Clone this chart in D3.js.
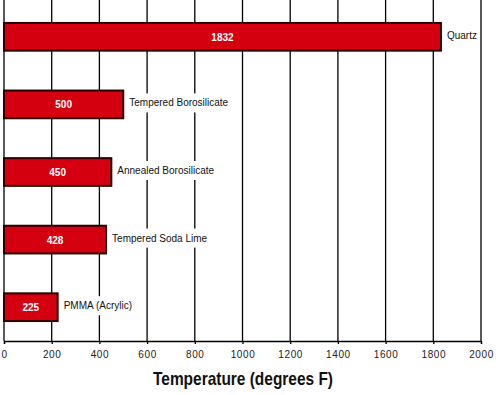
<!DOCTYPE html>
<html>
<head>
<meta charset="utf-8">
<script src="https://cdn.jsdelivr.net/npm/d3@7"></script>
<style>
  body { margin: 0; background: #fff; }
  svg { display: block; }
</style>
</head>
<body>
<div id="chart"></div>
<script>
// chart data
const materials = ["Quartz", "Tempered Borosilicate", "Annealed Borosilicate", "Tempered Soda Lime", "PMMA (Acrylic)"];
const temps = [1832, 500, 450, 428, 225];
const xTicks = [0, 200, 400, 600, 800, 1000, 1200, 1400, 1600, 1800, 2000];

const width = 496;
const height = 395;
const margin = {left: 4, right: 15, top: 3, bottom: 54};

const svg = d3.select("#chart")
  .append("svg")
  .attr("width", width)
  .attr("height", height);

const xScale = d3.scaleLinear()
  .domain([0, 2000])
  .range([margin.left, width - margin.right]);

const yScale = d3.scaleBand()
  .domain(materials)
  .range([margin.top, height - margin.bottom])
  .paddingInner(0.59)
  .paddingOuter(0.295);

const baseY = height - margin.bottom;

// vertical grid lines
svg.append("g")
  .selectAll("line")
  .data(xTicks)
  .enter()
  .append("line")
    .attr("x1", d => xScale(d))
    .attr("x2", d => xScale(d))
    .attr("y1", 0)
    .attr("y2", baseY)
    .attr("stroke", "#000")
    .attr("stroke-width", 1.3);

// x axis
const xAxis = svg.append("g")
  .attr("transform", `translate(0,${baseY})`)
  .call(d3.axisBottom(xScale).tickValues(xTicks).tickSize(3).tickPadding(7).tickFormat(d3.format("d")));
xAxis.select(".domain").attr("stroke", "#000").attr("stroke-width", 1.3);
xAxis.selectAll(".tick line").attr("stroke", "#000").attr("stroke-width", 1.3);
xAxis.selectAll("text")
  .attr("font-family", "Liberation Sans, Arial, sans-serif")
  .attr("font-size", "10px")
  .attr("letter-spacing", "0.6px")
  .attr("fill", "#222");

// axis title (condensed to match the narrow original)
svg.append("text")
  .attr("x", 243)
  .attr("y", 385)
  .attr("text-anchor", "middle")
  .attr("font-family", "Liberation Sans Narrow, Arial Narrow, sans-serif")
  .attr("font-weight", "bold")
  .attr("font-size", "19px")
  .attr("textLength", 180)
  .attr("lengthAdjust", "spacingAndGlyphs")
  .attr("fill", "#111")
  .text("Temperature (degrees F)");

// bars
svg.selectAll(".bar")
  .data(temps)
  .enter()
  .append("rect")
    .attr("class", "bar")
    .attr("x", xScale(0))
    .attr("y", (d, i) => yScale(materials[i]))
    .attr("width", d => xScale(d) - xScale(0))
    .attr("height", yScale.bandwidth())
    .attr("fill", "#d4000f")
    .attr("stroke", "#2a0000")
    .attr("stroke-width", 2);

// values inside bars
svg.selectAll(".val")
  .data(temps)
  .enter()
  .append("text")
    .attr("class", "val")
    .attr("x", d => (xScale(0) + xScale(d)) / 2)
    .attr("y", (d, i) => yScale(materials[i]) + yScale.bandwidth() / 2 + 4)
    .attr("text-anchor", "middle")
    .attr("font-family", "Liberation Sans, Arial, sans-serif")
    .attr("font-weight", "bold")
    .attr("font-size", "10px")
    .attr("fill", "#fff")
    .text(d => d);

// category labels with white background
const labels = svg.selectAll(".lab")
  .data(temps)
  .enter()
  .append("g")
    .attr("class", "lab")
    .attr("transform", (d, i) => `translate(${xScale(d) + 6},${yScale(materials[i]) + yScale.bandwidth() / 2 - 2})`);

labels.append("text")
  .attr("x", 0)
  .attr("y", 4)
  .attr("font-family", "Liberation Sans, Arial, sans-serif")
  .attr("font-size", "10px")
  .attr("fill", "#111")
  .text((d, i) => materials[i]);

labels.each(function() {
  const g = d3.select(this);
  const bb = g.select("text").node().getBBox();
  g.insert("rect", "text")
    .attr("x", bb.x - 2)
    .attr("y", bb.y - 4)
    .attr("width", bb.width + 4)
    .attr("height", bb.height + 8)
    .attr("fill", "#fff");
});
</script>
</body>
</html>
